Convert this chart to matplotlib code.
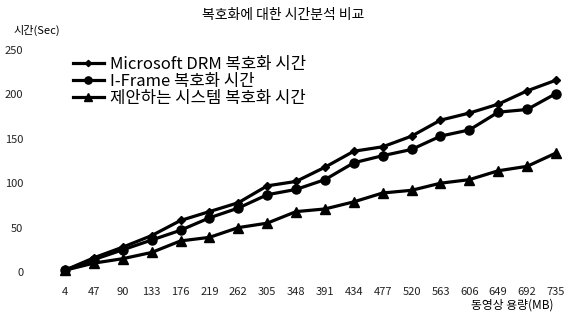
import matplotlib
matplotlib.use("Agg")
import matplotlib.pyplot as plt

plt.rcParams['font.family'] = ['Noto Sans CJK KR', 'DejaVu Sans']

sizes = ["4", "47", "90", "133", "176", "219", "262", "305", "348", "391",
         "434", "477", "520", "563", "606", "649", "692", "735"]
ms_drm = [2, 16, 28, 41, 58, 68, 78, 97, 102, 118, 136, 141, 153, 171, 179, 189, 204, 216]
iframe = [2, 14, 25, 36, 47, 61, 72, 87, 93, 104, 123, 131, 138, 153, 160, 180, 183, 201]
proposed = [2, 10, 15, 22, 35, 39, 50, 55, 68, 71, 79, 89, 92, 100, 104, 114, 119, 134]

labels = ["Microsoft DRM 복호화 시간", "I-Frame 복호화 시간", "제안하는 시스템 복호화 시간"]

fig = plt.figure(figsize=(5.78, 3.15), dpi=100)
W, H = 578, 315
ax = fig.add_axes([65 / W, 1 - 272 / H, (556 - 65) / W, (272 - 50) / H])

x = list(range(len(sizes)))
ax.plot(x, ms_drm, color='black', lw=2.3, marker='D', ms=4, clip_on=False, label=labels[0])
ax.plot(x, iframe, color='black', lw=2.3, marker='o', ms=6.5, clip_on=False, label=labels[1])
ax.plot(x, proposed, color='black', lw=2.3, marker='^', ms=6.5, clip_on=False, label=labels[2])

ax.set_xlim(0, len(sizes) - 1)
ax.set_ylim(0, 250)
ax.set_yticks([0, 50, 100, 150, 200, 250])
ax.set_xticks(x)
ax.set_xticklabels(sizes)
for s in ax.spines.values():
    s.set_visible(False)
ax.tick_params(axis='both', length=0, labelsize=8, colors='#222222')
ax.tick_params(axis='y', pad=30)
ax.tick_params(axis='x', pad=11)

leg = ax.legend(loc='upper left', bbox_to_anchor=((73 - 65) / (556 - 65), 1 - (56 - 50) / 222),
                frameon=False, fontsize=12, handlelength=1.85, handletextpad=0.4,
                labelspacing=0.0, borderaxespad=0, borderpad=0, markerscale=0.8)

fig.text(283 / W, 1 - 15 / H, "복호화에 대한 시간분석 비교", ha='center', va='center', fontsize=10)
fig.text(13 / W, 1 - 30 / H, "시간(Sec)", ha='left', va='center', fontsize=8)
fig.text(512 / W, 1 - 305 / H, "동영상 용량(MB)", ha='center', va='center', fontsize=8.5)

fig.savefig("out.png", dpi=100, facecolor='white')
